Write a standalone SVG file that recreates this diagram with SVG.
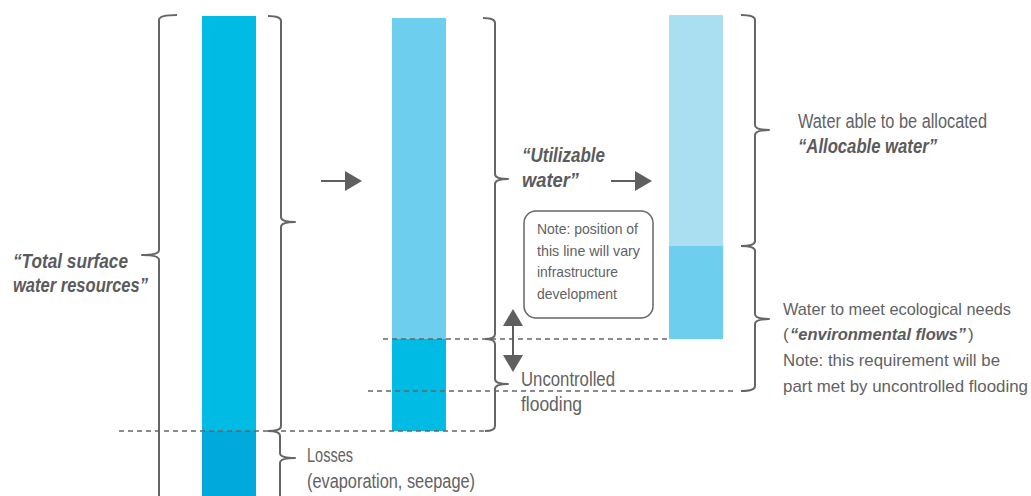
<svg xmlns="http://www.w3.org/2000/svg" width="1031" height="496" viewBox="0 0 1031 496">
<defs>
<style>
.t{font-family:"Liberation Sans Narrow","Liberation Sans",Arial,sans-serif;fill:#616264;font-size:20px}
.e{font-size:17px}
.eb{font-size:16.5px}
.b{font-weight:bold;font-style:italic;fill:#5a5b5d}
.s{font-size:15px}
.br{fill:none;stroke:#666;stroke-width:2;stroke-linejoin:round}
.d{stroke:#666;stroke-width:1.5;stroke-dasharray:5 4;fill:none}
.ar{stroke:#5f5f5f;stroke-width:2;fill:none}
.ah{fill:#5f5f5f}
</style>
</defs>
<rect width="1031" height="496" fill="#fff"/>
<g id="bar-total">
<rect x="202" y="16" width="54" height="415" fill="#00bce4"/>
<rect x="202" y="431" width="54" height="70" fill="#00a9dc"/>
</g>
<g id="bar-utilizable">
<rect x="392" y="18" width="54" height="321" fill="#6dceee"/>
<rect x="392" y="339" width="54" height="92" fill="#00bce4"/>
</g>
<g id="bar-allocable">
<rect x="669" y="15" width="54" height="231" fill="#aadff1"/>
<rect x="669" y="246" width="54" height="93" fill="#6dceee"/>
</g>
<g id="connectors">
<line class="d" x1="119" y1="431" x2="487" y2="431"/>
<line class="d" x1="383" y1="339" x2="669" y2="339"/>
<line class="d" x1="368" y1="391" x2="734" y2="391"/>
<path class="br" d="M177,15 Q159,15 159,20 V250 Q159,255 142,255 Q159,255 159,260 V500"/>
<path class="br" d="M268,16 Q281,16 281,21 V217 Q281,222 295,222 Q281,222 281,227 V426 Q281,431 268,431"/>
<path class="br" d="M268,431 Q280,431 280,436 V453 Q280,458 295,458 Q280,458 280,463 V500"/>
<path class="br" d="M483,18 Q495,18 495,23 V174 Q495,179 508,179 Q495,179 495,184 V334 Q495,339 485,339"/>
<path class="br" d="M485,339 Q495,339 495,344 V379 Q495,384 508,384 Q495,384 495,389 V426 Q495,431 485,431"/>
<path class="br" d="M741,15 Q755,15 755,20 V125 Q755,130 769,130 Q755,130 755,135 V241 Q755,246 741,246"/>
<path class="br" d="M741,246 Q755,246 755,251 V314 Q755,319 769,319 Q755,319 755,324 V386 Q755,391 741,391"/>
<line class="ar" x1="321" y1="181" x2="347" y2="181"/>
<polygon class="ah" points="345,171 362,181 345,191"/>
<line class="ar" x1="611" y1="181" x2="637" y2="181"/>
<polygon class="ah" points="635,171 652,181 635,191"/>
<line class="ar" x1="513" y1="322" x2="513" y2="359"/>
<polygon class="ah" points="513,309 523,326 503,326"/>
<polygon class="ah" points="513,372 523,355 503,355"/>
</g>
<g id="label-total">
<text class="t b" x="13" y="268" textLength="115" lengthAdjust="spacingAndGlyphs">“Total surface</text>
<text class="t b" x="13" y="292" textLength="135" lengthAdjust="spacingAndGlyphs">water resources”</text>
</g>
<g id="label-utilizable">
<text class="t b" x="522" y="162" textLength="83" lengthAdjust="spacingAndGlyphs">“Utilizable</text>
<text class="t b" x="522" y="187" textLength="57" lengthAdjust="spacingAndGlyphs">water”</text>
</g>
<g id="note-box">
<rect x="524" y="211" width="129" height="107" rx="12" fill="#fff" stroke="#666" stroke-width="1.5"/>
<text class="t s" x="537" y="234" textLength="101" lengthAdjust="spacingAndGlyphs">Note: position of</text>
<text class="t s" x="537" y="256" textLength="103" lengthAdjust="spacingAndGlyphs">this line will vary</text>
<text class="t s" x="537" y="277" textLength="81" lengthAdjust="spacingAndGlyphs">infrastructure</text>
<text class="t s" x="537" y="299" textLength="80" lengthAdjust="spacingAndGlyphs">development</text>
</g>
<g id="label-flooding">
<text class="t" x="521" y="386" textLength="94" lengthAdjust="spacingAndGlyphs">Uncontrolled</text>
<text class="t" x="521" y="411" textLength="61" lengthAdjust="spacingAndGlyphs">flooding</text>
</g>
<g id="label-losses">
<text class="t" x="307" y="462" textLength="46" lengthAdjust="spacingAndGlyphs">Losses</text>
<text class="t" x="307" y="488" textLength="168" lengthAdjust="spacingAndGlyphs">(evaporation, seepage)</text>
</g>
<g id="label-allocable">
<text class="t" x="798" y="128" textLength="189" lengthAdjust="spacingAndGlyphs">Water able to be allocated</text>
<text class="t b" x="798" y="153" textLength="139" lengthAdjust="spacingAndGlyphs">“Allocable water”</text>
</g>
<g id="label-eco">
<text class="t e" x="783" y="315" textLength="228" lengthAdjust="spacingAndGlyphs">Water to meet ecological needs</text>
<text class="t e" x="783" y="340">(</text>
<text class="t eb b" x="790" y="340" textLength="176" lengthAdjust="spacingAndGlyphs">“environmental flows”</text>
<text class="t e" x="968" y="340">)</text>
<text class="t e" x="783" y="366" textLength="217" lengthAdjust="spacingAndGlyphs">Note: this requirement will be</text>
<text class="t e" x="783" y="392" textLength="245" lengthAdjust="spacingAndGlyphs">part met by uncontrolled flooding</text>
</g>
</svg>
